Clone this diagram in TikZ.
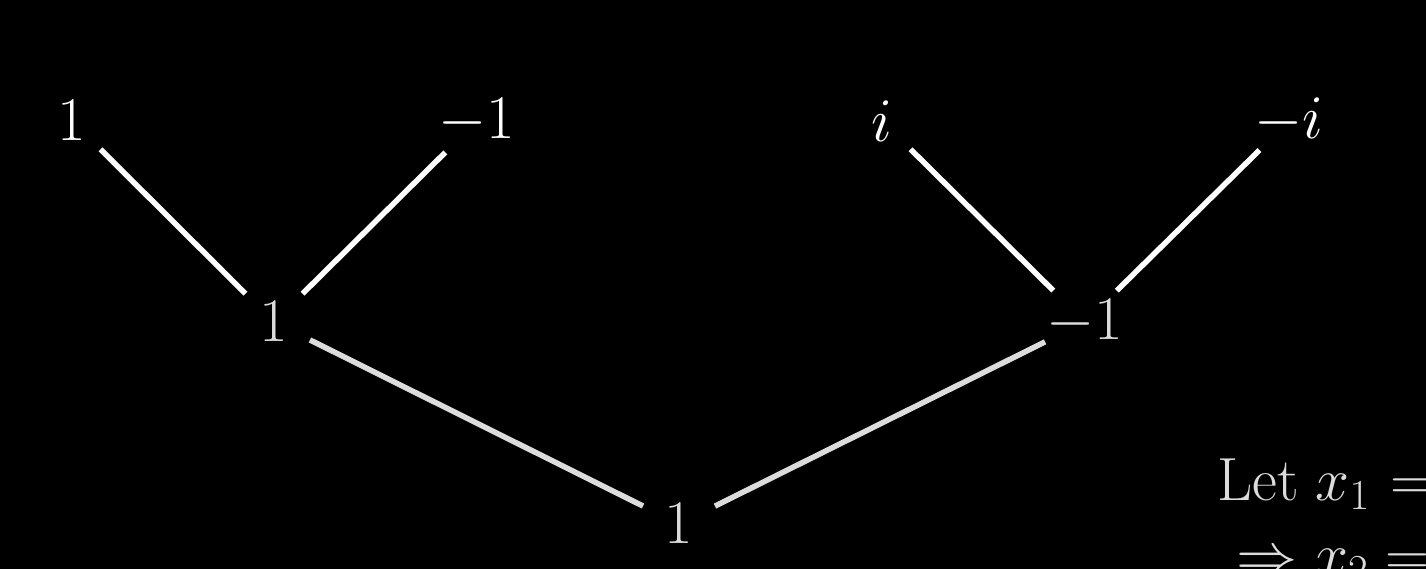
\RequirePackage{fix-cm}
\documentclass[tikz,border=0pt]{standalone}
\definecolor{litegray}{HTML}{DCDCDC}
\tikzset{
  lbl/.style={circle, minimum size=80pt, inner sep=0pt, font=\fontsize{62}{74}\selectfont},
  toplbl/.style={lbl, text=white},
  lowlbl/.style={lbl, text=litegray},
  topedge/.style={draw=white, line width=5.5pt},
  lowedge/.style={draw=litegray, line width=5.5pt},
  caption/.style={anchor=base west, inner sep=0pt, text=litegray, font=\fontsize{61}{74}\selectfont}
}
\begin{document}
\begin{tikzpicture}[x=1pt,y=1pt]
\fill[black] (0,0) rectangle (1426,-569);
\useasboundingbox (0,0) rectangle (1426,-569);
\node[toplbl] (a1) at (72,-121) {$1$};
\node[toplbl] (a2) at (477,-121) {$-1$};
\node[toplbl] (a3) at (882,-121) {$i$};
\node[toplbl] (a4) at (1289,-121) {$-i$};
\node[lowlbl] (b1) at (274,-322) {$1$};
\node[lowlbl] (b2) at (1085,-322) {$-1$};
\node[lowlbl] (c1) at (679,-524) {$1$};
\draw[topedge] (a1) -- (b1);
\draw[topedge] (a2) -- (b1);
\draw[topedge] (a3) -- (b2);
\draw[topedge] (a4) -- (b2);
\draw[lowedge] (b1) -- (c1);
\draw[lowedge] (b2) -- (c1);
\node[caption] (t1) at (1217,-500) {Let\hspace{17pt}$x_{\scriptstyle 1}\hspace{4pt}=$};
\node[caption] (t2) at (1236,-575) {$\Rightarrow x_2 =$};
\end{tikzpicture}
\end{document}
